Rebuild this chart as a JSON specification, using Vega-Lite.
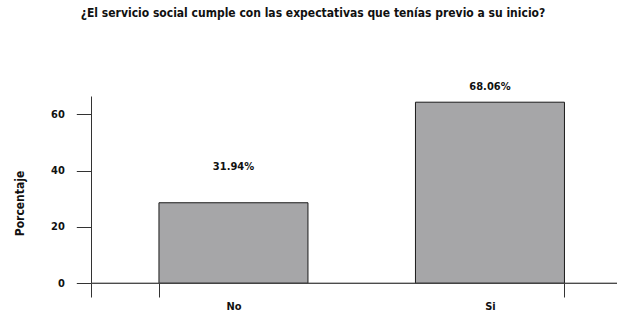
{
  "$schema": "https://vega.github.io/schema/vega-lite/v6.json",
  "width": 526,
  "height": 201,
  "autosize": {"type": "none"},
  "padding": {"left": 91, "top": 96, "right": 0, "bottom": 16},
  "background": "white",
  "title": {
    "text": "¿El servicio social cumple con las expectativas que tenías previo a su inicio?",
    "anchor": "middle",
    "frame": "group",
    "dx": -41,
    "offset": 61,
    "font": "DejaVu Sans Condensed",
    "fontSize": 12,
    "fontWeight": "bold",
    "color": "#111"
  },
  "config": {
    "view": {"stroke": null},
    "font": "DejaVu Sans Condensed",
    "axis": {"grid": false, "labelColor": "#111", "titleColor": "#111", "domainColor": "#333", "tickColor": "#333"}
  },
  "data": {
    "values": [
      {"respuesta": "No", "valor": 28.6, "etiqueta": "31.94%", "y_etiqueta": 41.4},
      {"respuesta": "Si", "valor": 64.3, "etiqueta": "68.06%", "y_etiqueta": 69.8}
    ]
  },
  "encoding": {
    "x": {
      "field": "respuesta",
      "type": "nominal",
      "sort": ["No", "Si"],
      "scale": {"paddingInner": 0.4191, "paddingOuter": 0.2349, "align": 0.564},
      "axis": {
        "title": null,
        "orient": "bottom",
        "offset": -13.7,
        "domain": false,
        "tickBand": "extent",
        "tickExtra": false,
        "tickOffset": -59.5,
        "tickSize": 13.7,
        "tickWidth": 1,
        "tickOpacity": {"condition": {"test": "datum.value === 'No'", "value": 0}, "value": 1},
        "labelAngle": 0,
        "labelPadding": 3,
        "labelFontSize": 11,
        "labelFontWeight": "bold"
      }
    }
  },
  "layer": [
    {
      "mark": {"type": "bar", "fill": "#A6A6A8", "stroke": "#1a1a1a", "strokeWidth": 1},
      "encoding": {
        "y": {
          "field": "valor",
          "type": "quantitative",
          "scale": {"domain": [-4.86, 66.5], "nice": false, "zero": false},
          "axis": {
            "title": "Porcentaje",
            "values": [0, 20, 40, 60],
            "tickSize": 14.7,
            "labelPadding": 12,
            "labelFontSize": 11,
            "labelFontWeight": "bold",
            "titleFontSize": 12,
            "titleFontWeight": "bold",
            "titleX": -72,
            "titleY": 107,
            "titleAngle": -90,
            "titleAlign": "center",
            "titleBaseline": "middle"
          }
        }
      }
    },
    {
      "mark": {"type": "rule", "color": "#444", "strokeWidth": 1},
      "encoding": {"y": {"datum": 0}, "x": {"value": 0}, "x2": {"value": 526}}
    },
    {
      "mark": {"type": "text", "fontSize": 11, "fontWeight": "bold", "color": "#111", "baseline": "middle"},
      "encoding": {
        "y": {"field": "y_etiqueta", "type": "quantitative"},
        "text": {"field": "etiqueta"}
      }
    }
  ]
}
